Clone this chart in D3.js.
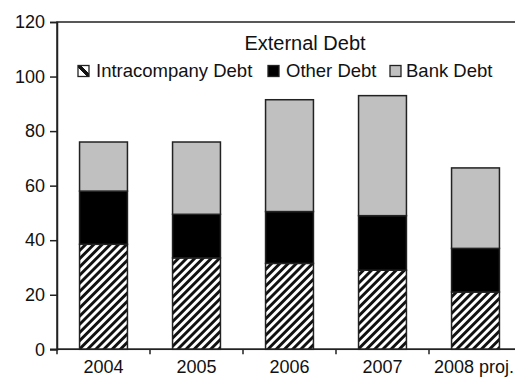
<!DOCTYPE html>
<html>
<head>
<meta charset="utf-8">
<script src="https://cdn.jsdelivr.net/npm/d3@7/dist/d3.min.js"></script>
<style>
  html, body { margin: 0; padding: 0; background: #fff; }
  svg { display: block; font-family: "Liberation Sans", Arial, sans-serif; }
</style>
</head>
<body>
<svg id="chart" width="515" height="378"></svg>
<script>
// External debt composition by year
const years = ["2004", "2005", "2006", "2007", "2008 proj."];
const intracompanyDebt = [38.5, 33.5, 31.5, 29, 21];
const otherDebt = [19.5, 16, 19, 20, 16];
const bankDebt = [18, 26.5, 41, 44, 29.5];
const yTicks = [0, 20, 40, 60, 80, 100, 120];
const seriesNames = ["Intracompany Debt", "Other Debt", "Bank Debt"];

const svg = d3.select("#chart");
const ink = "#222";

const defs = svg.append("defs");

// diagonal hatch for the intracompany segment
const pat = defs.append("pattern")
  .attr("id", "hatch")
  .attr("patternUnits", "userSpaceOnUse")
  .attr("width", 5.8).attr("height", 5.8)
  .attr("patternTransform", "rotate(45)");
pat.append("rect").attr("width", 5.8).attr("height", 5.8).attr("fill", "#fff");
pat.append("rect").attr("x", 0).attr("y", 0).attr("width", 2.9).attr("height", 5.8).attr("fill", "#111");

// legend swatch for the hatched series: a single diagonal band
const lh = defs.append("linearGradient")
  .attr("id", "legendHatch")
  .attr("x1", "0").attr("y1", "1").attr("x2", "1").attr("y2", "0");
[[0, "#fff"], [0.4, "#fff"], [0.4, "#111"], [0.62, "#111"], [0.62, "#fff"], [1, "#fff"]]
  .forEach(([o, c]) => lh.append("stop").attr("offset", o).attr("stop-color", c));

const fills = ["url(#hatch)", "#000", "#c0c0c0"];

const plotLeft = 57, plotRight = 522, plotTop = 22, plotBottom = 349.3;

const x = d3.scaleBand().domain(years).range([plotLeft, plotRight])
  .paddingInner(0.485).paddingOuter(0.2425);
const y = d3.scaleLinear().domain([0, 120]).range([plotBottom, plotTop]);

const rows = years.map((yr, i) => ({
  year: yr,
  "Intracompany Debt": intracompanyDebt[i],
  "Other Debt": otherDebt[i],
  "Bank Debt": bankDebt[i]
}));
const stacked = d3.stack().keys(seriesNames)(rows);

// frame of the plot area
svg.append("rect")
  .attr("x", plotLeft).attr("y", plotTop)
  .attr("width", plotRight - plotLeft).attr("height", plotBottom - plotTop)
  .attr("fill", "none").attr("stroke", ink).attr("stroke-width", 1.5);

// bars
stacked.forEach((layer, li) => {
  svg.append("g").selectAll("rect")
    .data(layer)
    .join("rect")
    .attr("x", d => x(d.data.year))
    .attr("width", x.bandwidth())
    .attr("y", d => y(d[1]))
    .attr("height", d => y(d[0]) - y(d[1]))
    .attr("fill", fills[li])
    .attr("stroke", ink)
    .attr("stroke-width", 1.5);
});

// y axis
const yAxis = d3.axisLeft(y).tickValues(yTicks).tickSize(7).tickPadding(5);
const gy = svg.append("g").attr("transform", `translate(${plotLeft},0)`).call(yAxis);
gy.select(".domain").attr("stroke", ink).attr("stroke-width", 1.5);
gy.selectAll(".tick line").attr("stroke", ink).attr("stroke-width", 1.5);
gy.selectAll(".tick text").attr("fill", "#111").attr("font-size", 18)
  .style("font-family", "'Liberation Sans', Arial, sans-serif");

// x axis: ticks between categories, labels centred under the bars
const boundaries = d3.range(years.length + 1).map(i => plotLeft + i * x.step());
const gx = svg.append("g");
gx.append("line")
  .attr("x1", plotLeft - 7).attr("x2", plotRight)
  .attr("y1", plotBottom).attr("y2", plotBottom)
  .attr("stroke", ink).attr("stroke-width", 1.5);
gx.selectAll("line.tk").data(boundaries).join("line")
  .attr("class", "tk")
  .attr("x1", d => d).attr("x2", d => d)
  .attr("y1", plotBottom).attr("y2", plotBottom + 5)
  .attr("stroke", ink).attr("stroke-width", 1.5);
gx.selectAll("text").data(years).join("text")
  .attr("x", (d, i) => i === years.length - 1 ? 514 : x(d) + x.bandwidth() / 2)
  .attr("y", 373)
  .attr("text-anchor", (d, i) => i === years.length - 1 ? "end" : "middle")
  .attr("font-size", 18)
  .attr("fill", "#111")
  .text(d => d);

// legend
svg.append("text")
  .attr("x", 305).attr("y", 50)
  .attr("text-anchor", "middle")
  .attr("font-size", 20)
  .attr("fill", "#111")
  .text("External Debt");

const legendItems = [
  { name: seriesNames[0], sx: 78, tx: 96 },
  { name: seriesNames[1], sx: 268, tx: 286 },
  { name: seriesNames[2], sx: 390, tx: 406 }
];
const lg = svg.append("g");
legendItems.forEach((it, i) => {
  lg.append("rect")
    .attr("x", it.sx).attr("y", 65.5)
    .attr("width", 11).attr("height", 11)
    .attr("fill", i === 0 ? "url(#legendHatch)" : fills[i])
    .attr("stroke", ink).attr("stroke-width", 1.3);
  lg.append("text")
    .attr("x", it.tx).attr("y", 77)
    .attr("font-size", 18.5)
    .attr("fill", "#111")
    .text(it.name);
});
</script>
</body>
</html>
